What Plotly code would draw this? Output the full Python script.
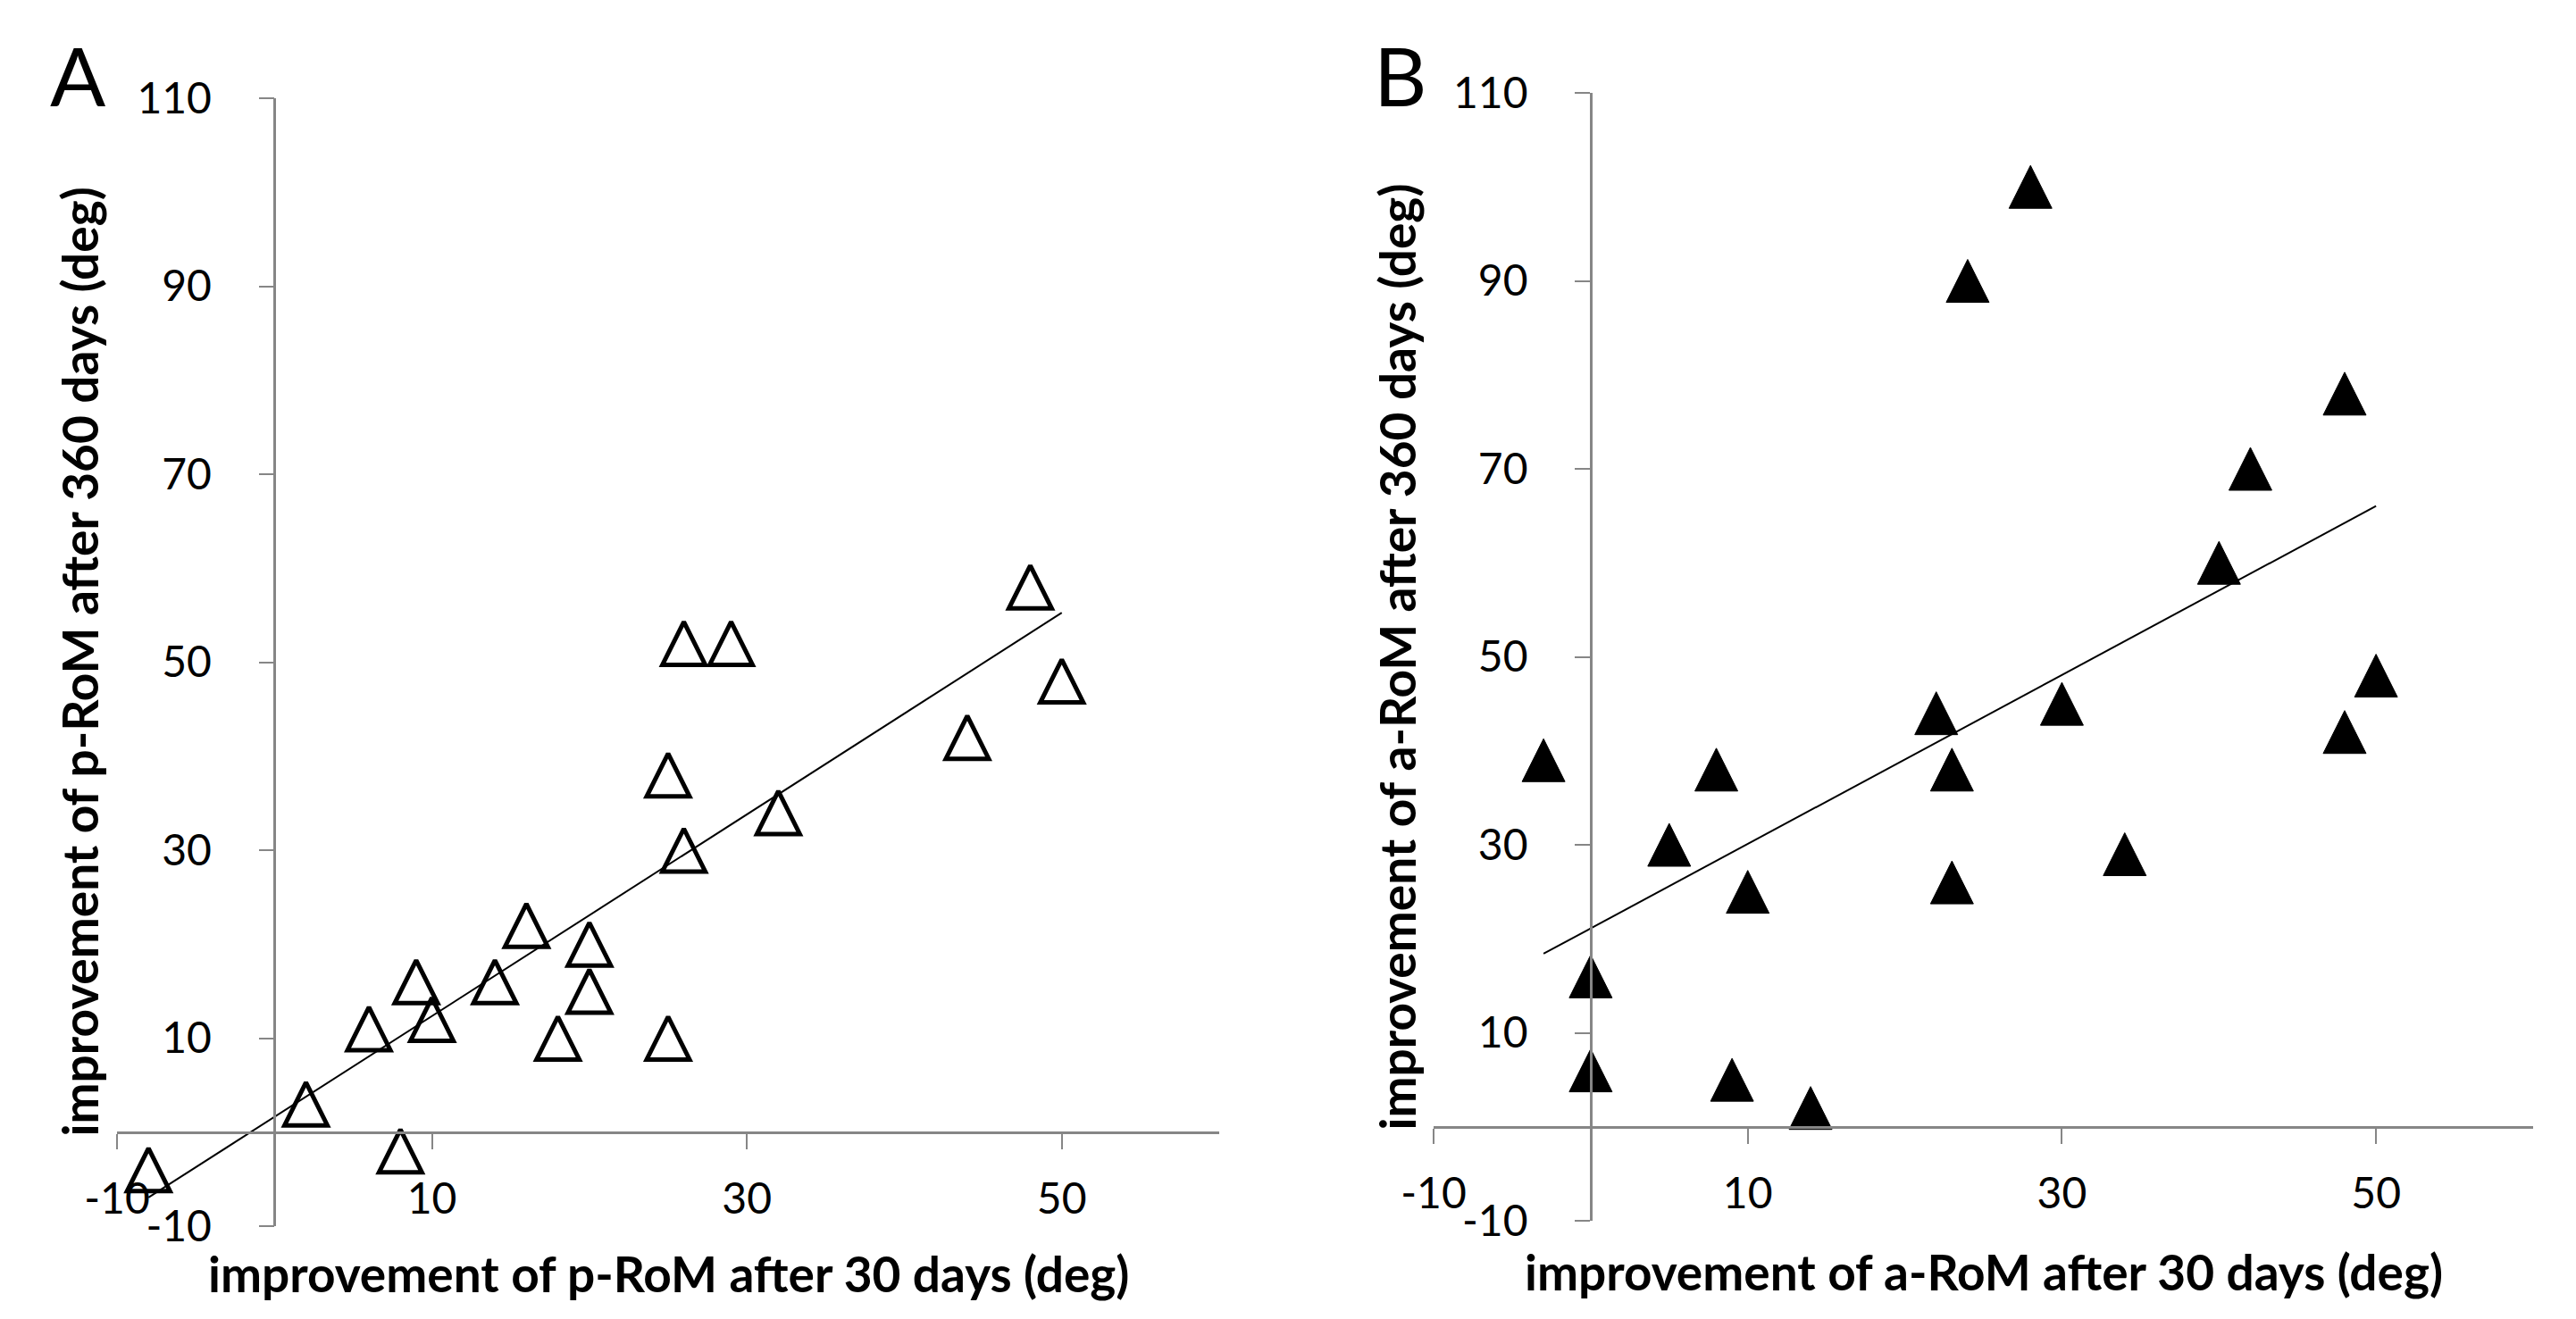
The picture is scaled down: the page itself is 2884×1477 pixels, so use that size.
import numpy as np
import plotly.graph_objects as go

# ---------------- data ----------------
# Panel A: passive range of motion (p-RoM)
a_x = [-8, 2, 8, 6, 9, 10, 14, 16, 18, 20, 20, 25, 25, 26, 26, 29, 32, 44, 48, 50]
a_y = [-4, 3, -2, 11, 16, 12, 16, 22, 10, 20, 15, 38, 10, 52, 30, 52, 34, 42, 58, 48]
# Panel B: active range of motion (a-RoM)
b_x = [-3, 0, 0, 5, 8, 9, 10, 14, 22, 23, 23, 24, 28, 30, 34, 40, 42, 48, 48, 50]
b_y = [39, 16, 6, 30, 38, 5, 25, 2, 44, 38, 26, 90, 100, 45, 29, 60, 70, 78, 42, 48]

x_ticks = [-10, 10, 30, 50]
y_ticks = [-10, 10, 30, 50, 70, 90, 110]
x_range = [-10, 60]
y_range = [-10, 110]

a_xtitle = "improvement of p-RoM after 30 days (deg)"
a_ytitle = "improvement of p-RoM after 360 days (deg)"
b_xtitle = "improvement of a-RoM after 30 days (deg)"
b_ytitle = "improvement of a-RoM after 360 days (deg)"
panel_labels = ["A", "B"]

# ---------------- layout geometry ----------------
W, H = 2884, 1477
FONT = "Lato"
AXIS_COLOR = "#868686"
MSIZE = 48

A_dom_x = [123 / W, 1357 / W]
A_dom_y = [1 - 1365 / H, 1 - 102 / H]
B_dom_x = [1597 / W, 2828 / W]
B_dom_y = [1 - 1359 / H, 1 - 96 / H]


def cross(dom, rng, v=0.0):
    return dom[0] + (dom[1] - dom[0]) * (v - rng[0]) / (rng[1] - rng[0])


def trend(xs, ys):
    k, b = np.polyfit(np.array(xs, float), np.array(ys, float), 1)
    xx = np.array([min(xs), max(xs)], float)
    return xx, k * xx + b


fig = go.Figure()

ta_x, ta_y = trend(a_x, a_y)
tb_x, tb_y = trend(b_x, b_y)

# triangle marker: arrow shape rotated to point up, centred on the point via standoff
fig.add_trace(go.Scatter(x=ta_x, y=ta_y, mode="lines", line=dict(color="black", width=2),
                         xaxis="x", yaxis="y", showlegend=False, hoverinfo="skip"))
fig.add_trace(go.Scatter(x=a_x, y=a_y, mode="markers",
                         marker=dict(symbol="arrow-down-open", angle=180, size=MSIZE,
                                     color="black", line=dict(color="black", width=5),
                                     standoff=MSIZE / 2),
                         xaxis="x", yaxis="y", showlegend=False))
fig.add_trace(go.Scatter(x=tb_x, y=tb_y, mode="lines", line=dict(color="black", width=2),
                         xaxis="x2", yaxis="y2", showlegend=False, hoverinfo="skip"))
fig.add_trace(go.Scatter(x=b_x, y=b_y, mode="markers",
                         marker=dict(symbol="arrow-down", angle=180, size=MSIZE,
                                     color="black", line=dict(color="black", width=1),
                                     standoff=MSIZE / 2),
                         xaxis="x2", yaxis="y2", showlegend=False))

tickfont = dict(family=FONT, size=48, color="black")


def xaxis(dom, ydom):
    return dict(domain=dom, anchor="free", position=cross(ydom, y_range, 0),
                range=x_range, tickmode="array", tickvals=x_ticks,
                ticktext=[str(v) for v in x_ticks], automargin=False,
                showline=True, linecolor=AXIS_COLOR, linewidth=2.5,
                ticks="outside", ticklen=17, tickwidth=2, tickcolor=AXIS_COLOR,
                showgrid=False, zeroline=False, tickfont=tickfont,
                ticklabelstandoff=15, fixedrange=True)


def yaxis(dom, xdom):
    return dict(domain=dom, anchor="free", position=cross(xdom, x_range, 0),
                range=y_range, tickmode="array", tickvals=y_ticks,
                ticktext=[str(v) for v in y_ticks], automargin=False,
                showline=True, linecolor=AXIS_COLOR, linewidth=2.5,
                ticks="outside", ticklen=17, tickwidth=2, tickcolor=AXIS_COLOR,
                showgrid=False, zeroline=False, tickfont=tickfont,
                ticklabelstandoff=43, fixedrange=True)


titlefont = dict(family=FONT, size=55, color="black", weight="bold")

annotations = [
    dict(text=a_xtitle, x=(A_dom_x[0] + A_dom_x[1]) / 2, y=1 - 1418 / H,
         xref="paper", yref="paper", showarrow=False, font=titlefont,
         xanchor="center", yanchor="middle"),
    dict(text=b_xtitle, x=(B_dom_x[0] + B_dom_x[1]) / 2, y=1 - 1416 / H,
         xref="paper", yref="paper", showarrow=False, font=titlefont,
         xanchor="center", yanchor="middle"),
    dict(text=a_ytitle, x=80 / W, y=(A_dom_y[0] + A_dom_y[1]) / 2,
         xref="paper", yref="paper", showarrow=False, font=titlefont, textangle=-90,
         xanchor="center", yanchor="middle"),
    dict(text=b_ytitle, x=1555 / W, y=(B_dom_y[0] + B_dom_y[1]) / 2,
         xref="paper", yref="paper", showarrow=False, font=titlefont, textangle=-90,
         xanchor="center", yanchor="middle"),
    dict(text=panel_labels[0], x=79 / W, y=1 - 76 / H, xref="paper", yref="paper",
         showarrow=False, font=dict(family=FONT, size=92, color="black"),
         xanchor="center", yanchor="middle"),
    dict(text=panel_labels[1], x=1559 / W, y=1 - 76 / H, xref="paper", yref="paper",
         showarrow=False, font=dict(family=FONT, size=92, color="black"),
         xanchor="center", yanchor="middle"),
]

fig.update_layout(
    template="none",
    width=W, height=H, autosize=False,
    margin=dict(l=0, r=0, t=0, b=0, pad=0),
    paper_bgcolor="white", plot_bgcolor="white",
    xaxis=xaxis(A_dom_x, A_dom_y), yaxis=yaxis(A_dom_y, A_dom_x),
    xaxis2=xaxis(B_dom_x, B_dom_y), yaxis2=yaxis(B_dom_y, B_dom_x),
    annotations=annotations,
    showlegend=False,
)

fig.write_html("out.html")
